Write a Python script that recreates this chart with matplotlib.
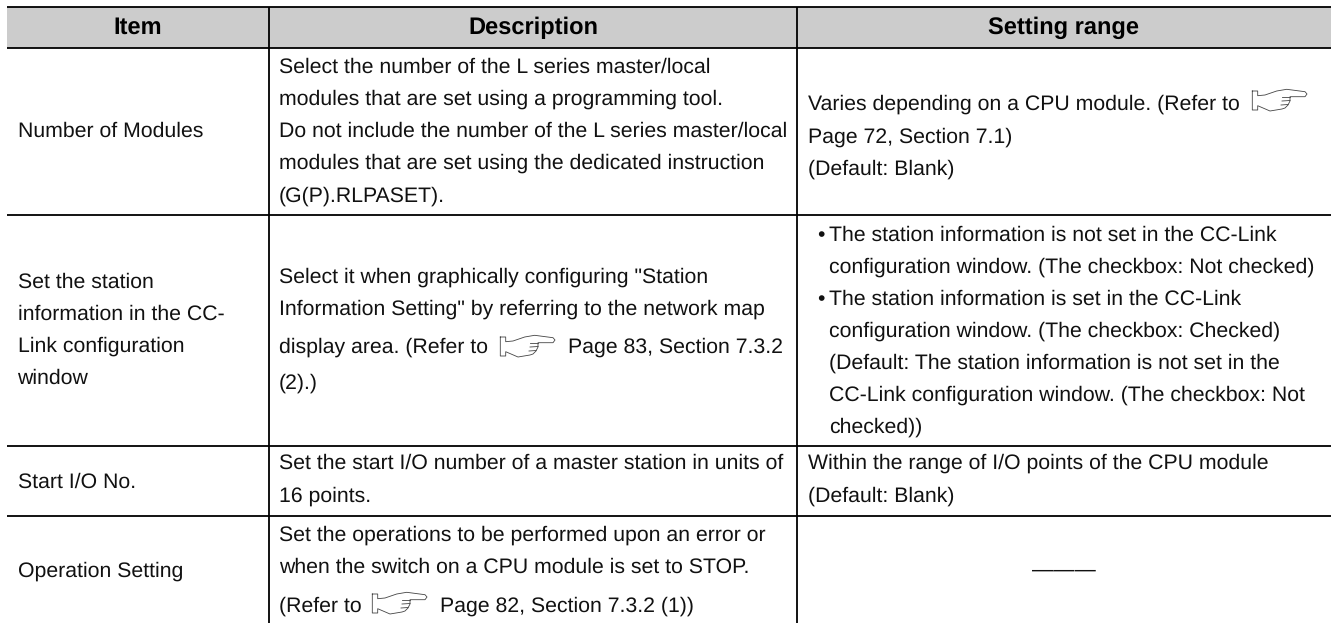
import matplotlib
matplotlib.use('Agg')
import matplotlib.pyplot as plt

W, H = 1331, 623
plt.rcParams['font.family'] = ['Liberation Sans', 'DejaVu Sans']
plt.rcParams['text.hinting'] = 'no_hinting'

# table grid, pixels
col_x = [7, 268.5, 797, 1331]
row_y = [7, 47.5, 214.5, 445.5, 516]
header = ['Item', 'Description', 'Setting range']
header_x = [137.5, 533, 1063.5]
header_base = 34

# (x, baseline, text)
col1 = [(17.5, 137, 'Number of Modules'),
        (17.5, 288, 'Set the station'),
        (17.5, 320, 'information in the CC-'),
        (17.5, 352, 'Link configuration'),
        (17.5, 384, 'window'),
        (17.5, 488, 'Start I/O No.'),
        (17.5, 577, 'Operation Setting')]
col2 = [(279, 73, 'Select the number of the L series master/local'),
        (279, 105, 'modules that are set using a programming tool.'),
        (279, 137, 'Do not include the number of the L series master/local'),
        (279, 169, 'modules that are set using the dedicated instruction'),
        (279, 202, '(G(P).RLPASET).'),
        (279, 283, 'Select it when graphically configuring "Station'),
        (279, 315, 'Information Setting" by referring to the network map'),
        (279, 353, 'display area. (Refer to'),
        (568, 353, 'Page 83, Section 7.3.2'),
        (279, 389, '(2).)'),
        (279, 469, 'Set the start I/O number of a master station in units of'),
        (279, 501.5, '16 points.'),
        (279, 541, 'Set the operations to be performed upon an error or'),
        (279, 573, 'when the switch on a CPU module is set to STOP.'),
        (279, 612, '(Refer to'),
        (440, 612, 'Page 82, Section 7.3.2 (1))')]
col3 = [(808, 110, 'Varies depending on a CPU module. (Refer to'),
        (808, 143, 'Page 72, Section 7.1)'),
        (808, 175, '(Default: Blank)'),
        (817, 241, '\u2022'),
        (829, 241, 'The station information is not set in the CC-Link'),
        (829, 273, 'configuration window. (The checkbox: Not checked)'),
        (817, 305, '\u2022'),
        (829, 305, 'The station information is set in the CC-Link'),
        (829, 337, 'configuration window. (The checkbox: Checked)'),
        (829, 369, '(Default: The station information is not set in the'),
        (829, 401, 'CC-Link configuration window. (The checkbox: Not'),
        (829, 433, 'checked))'),
        (808, 469, 'Within the range of I/O points of the CPU module'),
        (808, 501.5, '(Default: Blank)')]
dash = (1064, 576, '\u2014\u2014\u2014')

# hand icons: left, top of cuff
hand_pos = [(1252, 91), (500, 337), (372, 594)]
hand_x = [0.3, 5.7, 5.7, 13, 24.7, 34.7, 53, 55, 53, 38, 38, 36, 33, 30, 18, 5.7, 5.7, 0.3, 0.3]
hand_y = [0, 0, 4.7, 4, 0, -1.7, 0.7, 3, 5.7, 5.7, 10, 14, 17, 18, 20, 14.7, 19, 19, 0]
finger_x = [[38, 30], [38, 30], [36, 29]]
finger_y = [[5.7, 5.7], [9.5, 10], [13.5, 14]]

fig = plt.figure(figsize=(W / 100, H / 100), dpi=100)
ax = fig.add_axes([0, 0, 1, 1])
ax.set_xlim(0, W)
ax.set_ylim(H, 0)
ax.axis('off')

ax.fill_between([col_x[0], col_x[-1]], row_y[0], row_y[1], color='#cccccc', lw=0)
ax.hlines(row_y, col_x[0], col_x[-1], color='black', lw=1.3)
ax.vlines(col_x[1:3], row_y[0], H, color='black', lw=1.3)

for x, t in zip(header_x, header):
    ax.text(x, header_base, t, ha='center', va='baseline', fontsize=17, fontweight='bold', color='black')
for x, y, t in col1 + col2 + col3:
    ax.text(x, y, t, ha='left', va='baseline', fontsize=15.3, color='#111111')
ax.text(dash[0], dash[1], dash[2], ha='center', va='baseline', fontsize=15.3, color='#111111')

for px, py in hand_pos:
    ax.plot([px + v for v in hand_x], [py + v for v in hand_y], color='#444444', lw=0.6)
    for fx, fy in zip(finger_x, finger_y):
        ax.plot([px + v for v in fx], [py + v for v in fy], color='#444444', lw=0.6)

fig.savefig('out.png', dpi=100)
